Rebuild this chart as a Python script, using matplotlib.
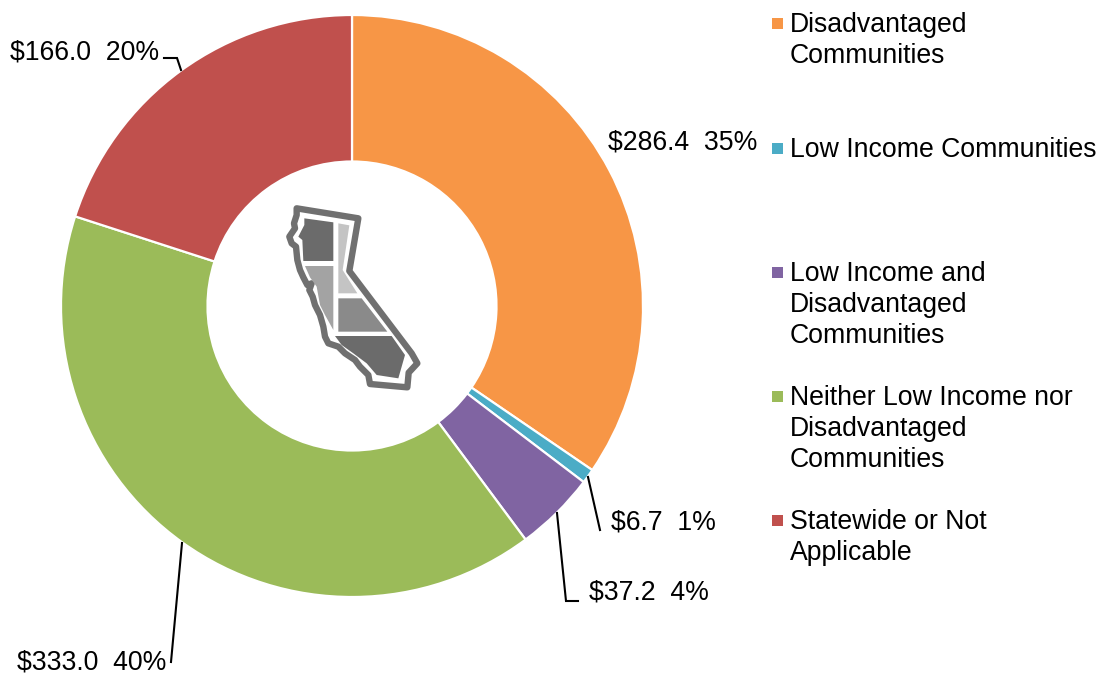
import matplotlib
matplotlib.use("Agg")
import matplotlib.pyplot as plt
from matplotlib.patches import Polygon, Rectangle

plt.rcParams['font.family'] = ['Liberation Sans', 'DejaVu Sans']

categories = ["Disadvantaged\nCommunities", "Low Income Communities",
              "Low Income and\nDisadvantaged\nCommunities",
              "Neither Low Income nor\nDisadvantaged\nCommunities",
              "Statewide or Not\nApplicable"]
values = [286.4, 6.7, 37.2, 333.0, 166.0]
percents = [35, 1, 4, 40, 20]
colors = ["#F79646", "#4BACC6", "#8064A2", "#9BBB59", "#C0504D"]

# label anchors and leader lines, in pixels
label_pos = [(608, 143), (611, 523), (589, 593), (17, 663), (10, 53)]
leaders = [None,
           [(588, 477), (600, 530)],
           [(557, 513), (566, 601), (578, 601)],
           [(182, 543), (171, 662)],
           [(164, 58), (177, 58), (181, 70)]]
legend_y = [24, 149, 273, 397, 521]

outline = [(80, 55), (265, 85), (238, 243), (425, 490), (442, 520), (416, 548), (412, 592),
           (300, 582), (295, 555), (270, 530), (255, 510), (225, 490), (205, 470), (175, 460),
           (165, 440), (160, 410), (150, 375), (135, 345), (128, 320), (118, 300), (125, 280),
           (112, 285), (100, 262), (90, 240), (82, 210), (78, 170), (65, 160), (58, 140),
           (75, 115), (72, 100), (80, 75)]
regions = [
    ("#6b6b6b", [(103, 85), (190, 97), (190, 213), (100, 213), (97, 150), (85, 140), (103, 105)]),
    ("#c4c4c4", [(205, 100), (238, 106), (218, 240), (262, 310), (205, 310)]),
    ("#a3a3a3", [(105, 228), (190, 228), (190, 420), (165, 375), (150, 345), (140, 290), (120, 262)]),
    ("#8a8a8a", [(205, 325), (275, 325), (352, 425), (205, 425)]),
    ("#6b6b6b", [(195, 438), (365, 438), (405, 495), (385, 565), (320, 555), (290, 520), (250, 490), (215, 465)]),
]


def crop_to_px(pts):
    return [(270 + x / 3, 190 + y / 3) for x, y in pts]


fig = plt.figure(figsize=(11, 6.75), dpi=100)
ax = fig.add_axes([0, 0, 1, 1])

ax.pie(values, colors=colors, center=(352, 306), radius=291, startangle=-90,
       counterclock=True, wedgeprops=dict(width=146.5, edgecolor="white", linewidth=1.6))
ax.set_aspect("auto")
ax.set_xlim(0, 1100)
ax.set_ylim(675, 0)
ax.axis("off")

for val, pct, pos, line in zip(values, percents, label_pos, leaders):
    ax.text(pos[0], pos[1], f"${val:.1f}  {pct}%", fontsize=19.2, color="black",
            ha="left", va="center")
    if line:
        ax.plot([p[0] for p in line], [p[1] for p in line], color="black", lw=1.5,
                solid_joinstyle="miter")

for name, col, y in zip(categories, colors, legend_y):
    ax.add_patch(Rectangle((772, y - 6), 11, 11, facecolor=col, edgecolor="none"))
    ax.text(790, y - 12, name, fontsize=19.2, color="black", ha="left", va="top", linespacing=1.24)

ax.add_patch(Polygon(crop_to_px(outline), closed=True, facecolor="white", edgecolor="#707070",
                     linewidth=4.6, joinstyle="round"))
for col, pts in regions:
    ax.add_patch(Polygon(crop_to_px(pts), closed=True, facecolor=col, edgecolor="none"))

fig.savefig("out.png", dpi=100)
